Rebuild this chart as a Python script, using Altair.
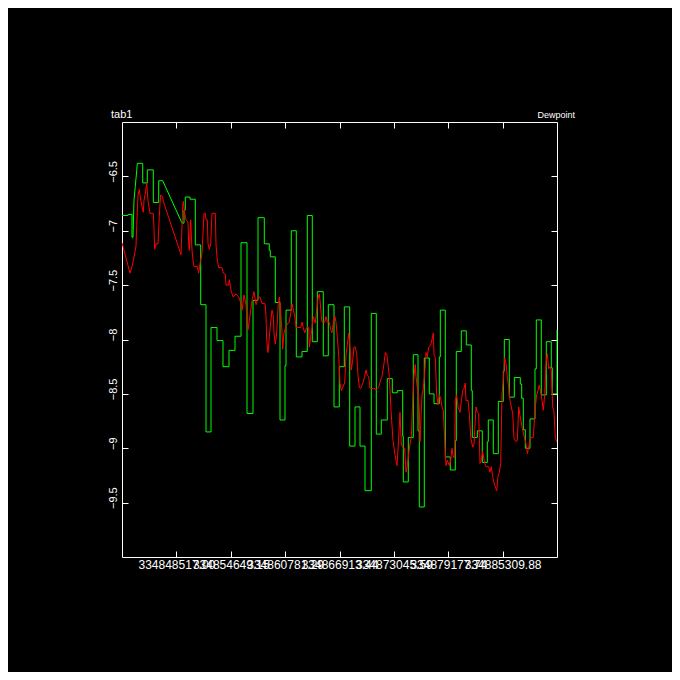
import altair as alt
import pandas as pd

# ---------------- data ----------------
TICK_TIMES = [334848517.00, 334854649.15, 334860781.29, 334866913.44,
              334873045.59, 334879177.74, 334885309.88]
Y_TICKS = [-9.5, -9.0, -8.5, -8.0, -7.5, -7.0, -6.5]
Y_DOMAIN = [-10.0, -6.0]
N_SAMPLES = 435  # samples across the whole record

GREEN_SAMPLE = [0, 6, 6, 10, 10, 11, 12, 13.3, 14.7, 15.3, 20.7, 20.7, 25.3, 25.3, 31.3, 31.3, 36.7, 36.7, 40.7,
                60, 62, 62, 63.3, 63.3, 68, 68, 73.3, 73.3, 78.7, 78.7, 84, 84, 89, 89, 95, 95, 101, 101, 107,
                107, 113, 113, 119, 119, 125, 125, 131, 131, 136, 136, 142.3, 142.3, 147.3, 147.3, 148.3, 148.3,
                153.3, 153.3, 158, 158, 163, 163, 164, 164, 169.3, 169.3, 174.3, 174.3, 180, 180, 185.3, 185.3,
                190.3, 190.3, 195.3, 195.3, 201.3, 201.3, 206.3, 206.3, 212, 212, 217.3, 217.3, 222.3, 222.3,
                227.7, 227.7, 233, 233, 238, 238, 243, 243, 249.3, 249.3, 254.3, 254.3, 259.3, 259.3, 265.3,
                265.3, 270.3, 270.3, 275.3, 275.3, 280.7, 280.7, 281.3, 281.3, 286.3, 286.3, 291.3, 291.3, 296,
                296, 297.3, 297.3, 302.3, 302.3, 307.3, 307.3, 312, 312, 317.3, 317.3, 318.3, 318.3, 323.3,
                323.3, 328.3, 328.3, 333.3, 333.3, 334.3, 334.3, 339.3, 339.3, 344.3, 344.3, 349.3, 349.3,
                350.3, 350.3, 355.3, 355.3, 360.3, 360.3, 365.3, 365.3, 366.3, 366.3, 371.3, 371.3, 376.3,
                376.3, 381.3, 381.3, 382.3, 382.3, 387.3, 387.3, 392.3, 392.3, 398.3, 398.3, 399.7, 399.7,
                401.3, 401.3, 403.3, 403.3, 408, 408, 413, 413, 414.3, 414.3, 419.3, 419.3, 424.3, 424.3,
                429.3, 429.3, 430.3, 430.3, 435, 435]
GREEN_DEWPOINT = [-6.86, -6.86, -6.85, -6.85, -7.06, -7.06, -6.72, -6.59, -6.45, -6.38, -6.38, -6.56, -6.56,
                  -6.44, -6.44, -6.74, -6.74, -6.54, -6.54,
                  -6.93, -6.93, -6.81, -6.81, -6.69, -6.69, -6.71, -6.71, -7.13, -7.13, -7.68, -7.68, -8.85,
                  -8.85, -7.89, -7.89, -8.01, -8.01, -8.25, -8.25, -8.10, -8.10, -7.97, -7.97, -7.11, -7.11,
                  -8.68, -8.68, -7.64, -7.64, -6.88, -6.88, -7.12, -7.12, -7.18, -7.18, -7.24, -7.24, -7.66,
                  -7.66, -8.74, -8.74, -8.24, -8.24, -7.73, -7.73, -7.00, -7.00, -8.16, -8.16, -8.11, -8.11,
                  -6.86, -6.86, -8.02, -8.02, -7.56, -7.56, -8.15, -8.15, -7.68, -7.68, -8.62, -8.62, -8.25,
                  -8.25, -7.70, -7.70, -8.98, -8.98, -8.62, -8.62, -8.98, -8.98, -9.39, -9.39, -7.76, -7.76,
                  -8.87, -8.87, -8.74, -8.74, -8.36, -8.36, -8.49, -8.49, -8.47, -8.47, -8.89, -8.89, -9.31,
                  -9.31, -8.90, -8.90, -8.14, -8.14, -8.84, -8.84, -9.54, -9.54, -8.17, -8.17, -8.50, -8.50,
                  -8.59, -8.59, -8.16, -8.16, -7.73, -7.73, -9.08, -9.08, -9.20, -9.20, -8.93, -8.93, -8.11,
                  -8.11, -7.92, -7.92, -8.05, -8.05, -8.47, -8.47, -8.90, -8.90, -8.84, -8.84, -9.13, -9.13,
                  -8.94, -8.94, -8.74, -8.74, -9.05, -9.05, -8.57, -8.57, -8.29, -8.29, -8.00, -8.00, -8.53,
                  -8.53, -8.35, -8.35, -8.41, -8.41, -8.54, -8.54, -8.83, -8.83, -9.00, -9.00, -8.73, -8.73,
                  -8.27, -8.27, -7.82, -7.82, -8.51, -8.51, -8.02, -8.02, -8.26, -8.26, -8.50, -8.50, -7.91]

RED_SAMPLE = [0, 2, 4, 6, 8, 10, 12, 14, 14.7, 16, 17.3, 18.7, 20, 21.3, 22, 23.3, 24.7, 26, 28, 31.3, 32, 32.7,
              34, 36, 37.3, 38, 38.7, 40.7, 41.3, 59, 60, 60.7, 61.3, 62.7, 64, 66, 66.7, 67.3, 68.7, 70, 71.3,
              72, 75.3, 76.7, 78, 80, 82, 83.3, 84, 85.3, 86, 87.3, 88.7, 90, 93.3, 94, 95.3, 96.7, 100, 101.3,
              103.3, 104, 106.7, 107.3, 109.3, 111.3, 114, 116.7, 118, 120, 122, 124, 126, 128, 130, 132, 134,
              136, 138, 140, 143, 144, 144.7, 146, 147.3, 148.7, 150, 151.3, 152, 153.3, 154.7, 156.3, 157.3,
              158.7, 160, 160.7, 162, 164, 166, 167.3, 168.7, 170, 171.3, 172.7, 174, 178.7, 180, 181.3, 182.7,
              184.7, 186.7, 187.3, 188.7, 190, 191.3, 193.3, 194.7, 196, 197.3, 198, 199.3, 200, 202.7, 204,
              205.3, 207.3, 208.7, 210, 211.3, 212.7, 214, 215.3, 216.7, 218, 219.3, 222.7, 224, 225.3, 226.7,
              228, 229.3, 230.7, 232, 233.3, 234.7, 236, 237.3, 238.7, 241.3, 242.7, 244, 245.3, 246.7, 248,
              251.3, 254.7, 256.7, 258.7, 260, 262, 263.3, 264.7, 266, 267.3, 269, 271, 273, 275, 276.5, 278,
              279.3, 281.3, 282.7, 284, 285.3, 286.7, 288, 289.3, 290.7, 292, 293.3, 294, 295.3, 296.7, 297.3,
              298, 299.3, 300, 301.3, 302.7, 304, 305.3, 306.7, 308.7, 310, 311.3, 312, 313.3, 314.7, 316,
              317.3, 318.7, 320, 321.3, 322.7, 324, 325.3, 327.3, 328.7, 330, 331.3, 332.7, 333.3, 334.7, 336,
              338, 339.3, 340.7, 342, 343.3, 344, 346, 347.3, 348.7, 350.7, 352, 354, 355.3, 356.7, 358, 359.3,
              360.7, 362.7, 364, 366.7, 368, 369.3, 370.7, 372, 374.7, 376, 377.3, 378.7, 380, 381.3, 382.7,
              384, 385.3, 386.7, 388, 389.3, 390.7, 392, 394, 395.3, 396.7, 398, 400, 401.3, 404, 405.3, 406.7,
              408, 409.3, 411.3, 413.3, 414.7, 416, 417.3, 418.7, 420, 421.3, 422.7, 424, 425.3, 426.7, 428,
              429.3, 430.7, 432, 433.3, 434.7]
RED_DEWPOINT = [-7.11, -7.18, -7.25, -7.32, -7.39, -7.33, -7.24, -7.14, -6.96, -6.67, -6.62, -6.72, -6.78, -6.83,
                -6.72, -6.66, -6.56, -6.72, -6.84, -6.84, -6.99, -7.17, -7.12, -7.12, -6.87, -6.75, -6.67, -6.69,
                -6.73, -7.22, -6.96, -6.78, -6.73, -6.84, -6.90, -6.92, -7.12, -7.18, -6.90, -7.18, -7.29, -7.33,
                -7.33, -7.39, -7.30, -7.21, -6.84, -6.84, -6.90, -6.90, -7.12, -7.17, -7.12, -6.84, -6.84, -7.13,
                -7.27, -7.34, -7.34, -7.39, -7.40, -7.50, -7.50, -7.45, -7.56, -7.61, -7.58, -7.61, -7.64, -7.73,
                -7.59, -7.68, -7.91, -7.78, -7.64, -7.56, -7.68, -7.61, -7.61, -7.67, -7.67, -7.78, -8.01, -8.12,
                -7.98, -7.84, -7.73, -7.78, -7.94, -8.04, -7.94, -7.67, -7.61, -7.73, -7.94, -8.09, -7.94, -7.88,
                -7.85, -7.84, -7.76, -7.67, -7.73, -7.78, -7.89, -7.89, -7.84, -7.89, -7.94, -7.89, -7.89, -8.07,
                -7.98, -7.89, -7.79, -7.85, -7.73, -7.62, -7.58, -7.64, -7.78, -7.84, -7.84, -7.79, -7.84, -7.84,
                -7.91, -7.94, -7.84, -7.78, -7.84, -7.98, -8.14, -8.40, -8.47, -8.40, -8.14, -8.05, -7.94, -8.07,
                -8.28, -8.19, -8.07, -8.07, -8.13, -8.33, -8.44, -8.45, -8.39, -8.34, -8.28, -8.33, -8.34, -8.45,
                -8.45, -8.46, -8.44, -8.37, -8.34, -8.22, -8.12, -8.13, -8.23, -8.34, -8.65, -8.93, -9.06, -9.16,
                -8.93, -8.67, -8.96, -9.00, -9.00, -9.22, -9.16, -9.05, -8.96, -8.90, -8.56, -8.34, -8.23, -8.34,
                -8.44, -8.56, -8.65, -8.94, -8.65, -8.51, -8.45, -8.31, -8.12, -8.16, -8.07, -8.05, -8.00, -7.94,
                -8.14, -8.17, -8.51, -8.60, -8.51, -8.54, -8.62, -8.65, -8.93, -9.16, -9.11, -9.16, -9.11, -9.00,
                -9.08, -9.09, -8.56, -8.51, -8.62, -8.67, -8.57, -8.47, -8.45, -8.40, -8.56, -8.56, -8.68, -8.90,
                -8.99, -8.96, -8.62, -8.67, -8.68, -9.14, -9.11, -9.03, -9.14, -9.17, -9.17, -9.22, -9.17, -9.26,
                -9.32, -9.39, -9.26, -9.22, -9.14, -8.50, -8.37, -8.17, -8.22, -8.34, -8.44, -8.56, -8.62, -8.68,
                -8.91, -8.94, -8.93, -8.62, -8.70, -8.80, -8.86, -8.96, -9.05, -8.99, -8.93, -8.90, -8.90, -8.62,
                -8.51, -8.47, -8.42, -8.48, -8.56, -8.65, -8.51, -8.22, -8.13, -8.27, -8.25, -8.28, -8.62, -8.67,
                -8.90, -8.94]

TITLE_LEFT = "tab1"
TITLE_RIGHT = "Dewpoint"

# ---------------- build tables ----------------
step = (TICK_TIMES[-1] - TICK_TIMES[0]) / (len(TICK_TIMES) - 1)
t_start = TICK_TIMES[0] - step
t_end = TICK_TIMES[-1] + step
sec_per_sample = (t_end - t_start) / N_SAMPLES

green_df = pd.DataFrame({
    "time": [t_start + s * sec_per_sample for s in GREEN_SAMPLE],
    "dewpoint": GREEN_DEWPOINT,
    "order": list(range(len(GREEN_SAMPLE))),
})
red_df = pd.DataFrame({
    "time": [t_start + s * sec_per_sample for s in RED_SAMPLE],
    "dewpoint": RED_DEWPOINT,
    "order": list(range(len(RED_SAMPLE))),
})

x_scale = alt.Scale(domain=[t_start, t_end], nice=False, zero=False)
y_scale = alt.Scale(domain=Y_DOMAIN, nice=False, zero=False)

common_axis = dict(domain=False, grid=False, ticks=True, tickSize=6, tickColor="white",
                   tickWidth=1, offset=-6, title=None)

x_axis_bottom = alt.Axis(orient="bottom", values=TICK_TIMES, format=".2f", labelColor="white",
                         labelFont="Liberation Sans", labelFontSize=12, labelPadding=2,
                         labelOverlap=False, labelFlush=False, labelBound=False, **common_axis)
y_axis_left = alt.Axis(orient="left", values=Y_TICKS, format="~g", labelColor="white",
                       labelFont="Liberation Sans", labelFontSize=11, labelAngle=270,
                       labelAlign="center", labelBaseline="alphabetic", labelPadding=6,
                       labelOffset=-5, labelOverlap=False, labelFlush=False, **common_axis)
x_axis_top = alt.Axis(orient="top", values=TICK_TIMES, labels=False, **common_axis)
y_axis_right = alt.Axis(orient="right", values=Y_TICKS, labels=False, **common_axis)

green = alt.Chart(green_df).mark_line(color="#00ff00", strokeWidth=1).encode(
    x=alt.X("time:Q", scale=x_scale, axis=x_axis_bottom),
    y=alt.Y("dewpoint:Q", scale=y_scale, axis=y_axis_left),
    order="order:Q",
)
red = alt.Chart(red_df).mark_line(color="#ff0000", strokeWidth=1).encode(
    x=alt.X("time:Q", scale=x_scale, axis=x_axis_top),
    y=alt.Y("dewpoint:Q", scale=y_scale, axis=y_axis_right),
    order="order:Q",
)

title_left = alt.Chart(pd.DataFrame({"t": [TITLE_LEFT]})).mark_text(
    color="white", font="Liberation Sans", fontSize=11, align="left", baseline="alphabetic"
).encode(text="t:N", x=alt.value(-11), y=alt.value(-4))

title_right = alt.Chart(pd.DataFrame({"t": [TITLE_RIGHT]})).mark_text(
    color="white", font="Liberation Sans", fontSize=9, align="right", baseline="alphabetic"
).encode(text="t:N", x=alt.value(453), y=alt.value(-4))

chart = alt.layer(green, red, title_left, title_right).resolve_axis(
    x="independent", y="independent"
).properties(
    width=435, height=435,
    autosize=alt.AutoSizeParams(type="none"),
    padding={"left": 114, "top": 114, "right": 115, "bottom": 115},
    background="black",
).configure_view(stroke="white", strokeWidth=1)

chart.save("out.html", embed_options={"renderer": "svg", "actions": False})
